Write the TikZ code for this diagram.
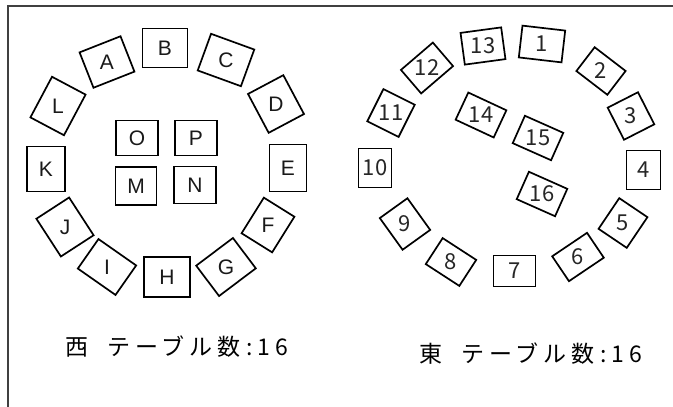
\documentclass[tikz,border=0pt]{standalone}
\usepackage{fontspec}
\setmainfont{Liberation Sans}
\newfontfamily\jpfont{Noto Sans CJK JP}
\newcommand\tbox[7]{%
  \node[tb,minimum width=#4pt,minimum height=#5pt,rotate=#6] (b#1) at (#2) {};
  \node[#7] (t#1) at (b#1.center) {#3};}
\begin{document}
\begin{tikzpicture}[x=1pt,y=-1pt,
  tb/.style={draw=black,line width=1.7pt,inner sep=0pt,outer sep=0pt},
  lt/.style={inner sep=0pt,text=black!90,font=\fontsize{21}{21}\selectfont},
  dt/.style={inner sep=0pt,text=black!85,font=\jpfont\fontsize{22}{22}\selectfont},
  captext/.style={inner sep=0pt,font=\jpfont\fontsize{23}{23}\selectfont\addfontfeature{LetterSpace=22}},
  frame/.style={draw=black!75,line width=2.2pt}]
\useasboundingbox (0,0) rectangle (673,407);
\draw[frame] (8,407) -- (8,6) -- (673,6);
% west
\tbox{A}{107,62}{A}{44}{38}{21.5}{lt}
\tbox{B}{165,48}{B}{45}{39}{0}{lt}
\tbox{C}{226,60}{C}{46}{39}{-20}{lt}
\tbox{D}{276,104}{D}{40}{44}{28}{lt}
\tbox{E}{288,168}{E}{37}{47}{0}{lt}
\tbox{F}{268,225}{F}{36}{42}{-32}{lt}
\tbox{G}{226,267}{G}{46}{38}{37}{lt}
\tbox{H}{167,277}{H}{46}{40}{0}{lt}
\tbox{I}{107,267}{I}{46}{36}{-35}{lt}
\tbox{J}{65,227}{J}{39}{45}{33}{lt}
\tbox{K}{46,169}{K}{38}{45}{0}{lt}
\tbox{L}{58,106}{L}{38}{46}{-28}{lt}
\tbox{M}{136,186}{M}{41}{38}{0}{lt}
\tbox{N}{195,185}{N}{42}{37}{0}{lt}
\tbox{O}{137,138}{O}{42}{35}{0}{lt}
\tbox{P}{196,138}{P}{42}{35}{0}{lt}
% east
\tbox{1}{542,44}{1}{43}{32}{-6.6}{dt}
\tbox{2}{601,71}{2}{39}{30}{-37.5}{dt}
\tbox{3}{631,116}{3}{34}{36}{27}{dt}
\tbox{4}{643.5,170}{4}{34}{39}{0}{dt}
\tbox{5}{623,223}{5}{34}{37}{-34}{dt}
\tbox{6}{578,257}{6}{42}{30}{34}{dt}
\tbox{7}{514.5,271}{7}{42}{31}{0}{dt}
\tbox{8}{451,262}{8}{40}{31}{-33}{dt}
\tbox{9}{405,224}{9}{34}{39}{35.7}{dt}
\tbox{10}{375,168}{10}{33}{39}{0}{dt}
\tbox{11}{391,113}{11}{35}{36}{-26.6}{dt}
\tbox{12}{427,68}{12}{42}{31}{40.6}{dt}
\tbox{13}{483,46}{13}{41}{32}{7.7}{dt}
\tbox{14}{481,115}{14}{42}{30}{-25}{dt}
\tbox{15}{538,138}{15}{42}{30}{-24}{dt}
\tbox{16}{542,194}{16}{42}{30}{-24}{dt}
% captions
\node[captext] (west) at (177,347) {西\hspace{8pt} テーブル数:16};
\node[captext] (east) at (531,354) {東\hspace{8pt} テーブル数:16};
\end{tikzpicture}
\end{document}
